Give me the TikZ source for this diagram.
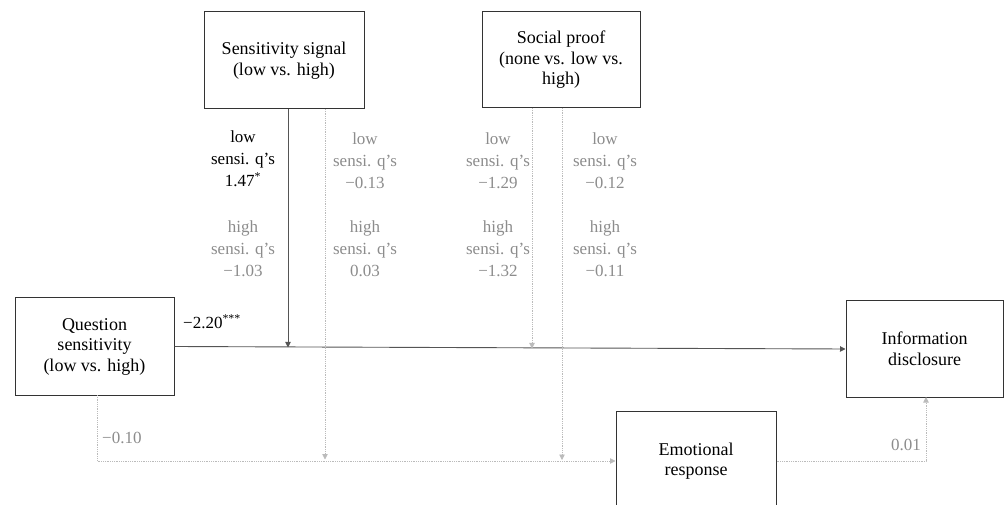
\documentclass[tikz,border=0pt]{standalone}
\usepackage{fontspec}
\setmainfont{Liberation Serif}
\usetikzlibrary{arrows.meta}
\definecolor{boxline}{HTML}{333333}
\definecolor{mainline}{HTML}{555555}
\definecolor{dotline}{HTML}{BBBBBB}
\definecolor{graytext}{HTML}{8C8C8C}
\tikzset{
  varbox/.style={draw=boxline, line width=1pt, fill=white, inner sep=0pt, align=center,
    font=\fontsize{18}{20.5}\selectfont},
  coef/.style={align=center, font=\fontsize{17}{22}\selectfont, inner sep=0pt},
  sig/.style={coef, text=black},
  nsig/.style={coef, text=graytext},
  mainarrow/.style={draw=mainline, line width=0.9pt, -{Triangle[length=5.5pt,width=5.5pt]}},
  dotarrow/.style={draw=dotline, line width=0.8pt, densely dotted, -{Triangle[length=5.5pt,width=5.5pt,fill=dotline]}},
  dotline/.style={draw=dotline, line width=0.8pt, densely dotted}
}
\begin{document}
\begin{tikzpicture}[x=1pt,y=-1pt]
\useasboundingbox (0,0) rectangle (1005,505);
\clip (0,0) rectangle (1005,505);
% boxes
\node[varbox, minimum width=160pt, minimum height=97pt] (ss) at (284,60.5) {Sensitivity signal\\(low vs. high)};
\node[varbox, minimum width=158pt, minimum height=96pt] (sp) at (561,60) {Social proof\\(none vs. low vs.\\high)};
\node[varbox, minimum width=159pt, minimum height=97pt] (q) at (94.5,346.5) {Question\\sensitivity\\(low vs. high)};
\node[varbox, minimum width=157pt, minimum height=96pt] (info) at (924.5,349) {Information\\disclosure};
\node[varbox, minimum width=160pt, minimum height=100pt] (em) at (696,461) {Emotional\\response};
% helper coordinates
\coordinate (ssA) at (288,109);
\coordinate (mainA) at (288,347.5);
\coordinate (ssB) at (325,109);
\coordinate (botB) at (325,459.5);
\coordinate (spA) at (532,108);
\coordinate (mainB) at (532,348.5);
\coordinate (spB) at (562,108);
\coordinate (botC) at (562,460);
\coordinate (qB) at (97,395);
\coordinate (iB) at (926,397);
% connectors
\draw[mainarrow] (q.east) -- (info.west);
\draw[mainarrow] (ssA) -- (mainA);
\draw[dotarrow] (ssB) -- (botB);
\draw[dotarrow] (spA) -- (mainB);
\draw[dotarrow] (spB) -- (botC);
\draw[dotarrow] (qB) |- (em.west);
\draw[dotarrow] (em.east) -| (iB);
% coefficient labels
\node[sig] (c1a) at (243,159) {low\\sensi. q’s\\1.47\textsuperscript{*}};
\node[nsig] (c1b) at (243,249) {high\\sensi. q’s\\−1.03};
\node[nsig] (c2a) at (365,161) {low\\sensi. q’s\\−0.13};
\node[nsig] (c2b) at (365,249) {high\\sensi. q’s\\0.03};
\node[nsig] (c3a) at (498,161) {low\\sensi. q’s\\−1.29};
\node[nsig] (c3b) at (498,249) {high\\sensi. q’s\\−1.32};
\node[nsig] (c4a) at (605,161) {low\\sensi. q’s\\−0.12};
\node[nsig] (c4b) at (605,249) {high\\sensi. q’s\\−0.11};
\node[sig, anchor=west] (main) at (183,322) {−2.20\textsuperscript{***}};
\node[nsig, anchor=west] (indq) at (102,438) {−0.10};
\node[nsig, anchor=east] (indi) at (921,445) {0.01};
\end{tikzpicture}
\end{document}
